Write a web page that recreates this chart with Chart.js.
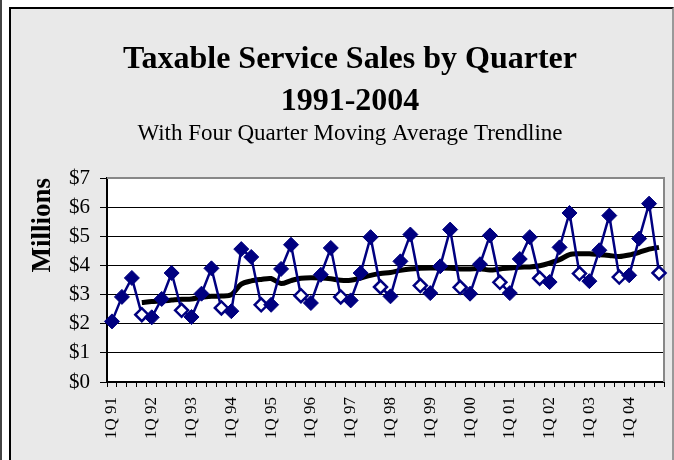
<!DOCTYPE html>
<html>
<head>
<meta charset="utf-8">
<script src="https://cdn.jsdelivr.net/npm/chart.js@4.4.0/dist/chart.umd.min.js"></script>
<style>
  html, body { margin: 0; padding: 0; background: #fff; }
  #wrap { position: relative; width: 674px; height: 460px; overflow: hidden; }
  #edge { position: absolute; left: 0; top: 0; width: 2px; height: 460px; background: #444; }
  #frame { position: absolute; left: 9px; top: 7px; width: 661px; height: 470px;
           background: #e9e9e9; border-left: 2px solid #000; border-top: 2px solid #000; border-right: 2px solid #999; }
  #chart { position: absolute; left: 0; top: 0; }
</style>
</head>
<body>
<div id="wrap">
  <div id="edge"></div>
  <div id="frame"></div>
  <canvas id="chart" width="674" height="460"></canvas>
</div>
<script>
  // quarterly taxable service sales, $ millions
  var years = ['91', '92', '93', '94', '95', '96', '97', '98', '99', '00', '01', '02', '03', '04'];
  var quarterNames = ['1Q', '2Q', '3Q', '4Q'];

  var sales = [
    2.08, 2.92, 3.57, 2.31,
    2.22, 2.85, 3.74, 2.46,
    2.23, 3.03, 3.90, 2.54,
    2.43, 4.56, 4.29, 2.65,
    2.65, 3.88, 4.71, 2.96,
    2.71, 3.68, 4.60, 2.92,
    2.80, 3.74, 4.97, 3.26,
    2.94, 4.14, 5.06, 3.31,
    3.05, 3.97, 5.23, 3.25,
    3.03, 4.04, 5.03, 3.42,
    3.05, 4.22, 4.97, 3.56,
    3.43, 4.62, 5.80, 3.72,
    3.46, 4.52, 5.71, 3.60,
    3.66, 4.92, 6.12, 3.74
  ];

  // four quarter moving average trendline
  var movingAvg = [
    null, null, null, 2.73,
    2.76, 2.78, 2.81, 2.84,
    2.85, 2.91, 2.94, 2.95,
    3.00, 3.36, 3.47, 3.52,
    3.55, 3.38, 3.48, 3.56,
    3.58, 3.57, 3.54, 3.49,
    3.49, 3.57, 3.66, 3.72,
    3.76, 3.83, 3.88, 3.90,
    3.91, 3.91, 3.90, 3.88,
    3.88, 3.89, 3.84, 3.88,
    3.91, 3.94, 3.95, 3.99,
    4.08, 4.20, 4.37, 4.40,
    4.40, 4.37, 4.34, 4.31,
    4.36, 4.45, 4.56, 4.62
  ];

  var yTicks = [0, 1, 2, 3, 4, 5, 6, 7];

  var quarters = [];
  years.forEach(function (yr) {
    quarterNames.forEach(function (q) {
      quarters.push(q + ' ' + yr);
    });
  });

  var navy = '#000080';
  var serif = '"Liberation Serif", "Times New Roman", serif';

  var plotFrame = {
    id: 'plotFrame',
    beforeDraw: function (chart) {
      var a = chart.chartArea, ctx = chart.ctx;
      ctx.save();
      ctx.fillStyle = '#fff';
      ctx.fillRect(a.left, a.top, a.right - a.left, a.bottom - a.top);
      ctx.restore();
    },
    beforeDatasetsDraw: function (chart) {
      var a = chart.chartArea, ctx = chart.ctx;
      ctx.save();
      ctx.strokeStyle = '#888';
      ctx.lineWidth = 2;
      ctx.beginPath();
      ctx.moveTo(a.left, a.top);
      ctx.lineTo(a.right, a.top);
      ctx.lineTo(a.right, a.bottom);
      ctx.stroke();
      ctx.restore();
    },
    afterDraw: function (chart) {
      var ctx = chart.ctx;
      ctx.save();
      ctx.fillStyle = '#000';
      ctx.textAlign = 'center';
      ctx.textBaseline = 'alphabetic';
      ctx.font = 'bold 32px ' + serif;
      ctx.fillText('Taxable Service Sales by Quarter', 350, 68);
      ctx.fillText('1991-2004', 350, 110);
      ctx.font = '23px ' + serif;
      ctx.fillText('With Four Quarter Moving Average Trendline', 350, 140);
      ctx.restore();
    }
  };

  new Chart(document.getElementById('chart'), {
    type: 'line',
    data: {
      labels: quarters,
      datasets: [{
        label: 'Sales',
        data: sales,
        borderColor: navy,
        borderWidth: 2.5,
        tension: 0,
        pointStyle: 'rectRot',
        pointRadius: function (c) { return c.dataIndex % 4 === 3 ? 6.5 : 7.5; },
        pointBackgroundColor: function (c) { return c.dataIndex % 4 === 3 ? '#fff' : navy; },
        pointBorderColor: navy,
        pointBorderWidth: function (c) { return c.dataIndex % 4 === 3 ? 2.5 : 1; },
        clip: false,
        order: 0
      }, {
        label: 'Four Quarter Moving Average',
        data: movingAvg,
        borderColor: '#000',
        borderWidth: 5,
        tension: 0.3,
        pointRadius: 0,
        spanGaps: false,
        order: 1
      }]
    },
    options: {
      responsive: false,
      animation: false,
      layout: { padding: { top: 178, right: 10, left: 0, bottom: 0 } },
      plugins: {
        legend: { display: false },
        tooltip: { enabled: false }
      },
      scales: {
        x: {
          type: 'category',
          offset: true,
          afterFit: function (s) { s.height = 78; s.paddingLeft = 0; s.paddingRight = 0; },
          grid: { display: true, offset: true, drawOnChartArea: false, tickLength: 5, color: '#000', tickColor: '#000' },
          border: { display: true, color: '#000', width: 2 },
          ticks: {
            autoSkip: false,
            maxRotation: 90,
            minRotation: 90,
            padding: 10,
            color: '#000',
            font: { family: serif, size: 17 },
            callback: function (v, i) { return i % 4 === 0 ? quarters[i] : ''; }
          }
        },
        y: {
          min: yTicks[0],
          max: yTicks[yTicks.length - 1],
          afterFit: function (s) { s.width = 107; s.paddingTop = 0; s.paddingBottom = 0; },
          afterBuildTicks: function (s) { s.ticks = yTicks.map(function (v) { return { value: v }; }); },
          grid: {
            color: function (c) { return c.tick && c.tick.value === 7 ? '#888' : '#000'; },
            lineWidth: 1,
            tickLength: 7,
            tickColor: '#000'
          },
          border: { display: true, color: '#000', width: 2 },
          ticks: {
            padding: 10,
            color: '#000',
            font: { family: serif, size: 21 },
            callback: function (v) { return '$' + v; }
          },
          title: {
            display: true,
            text: 'Millions',
            align: 'end',
            color: '#000',
            font: { family: serif, size: 27, weight: 'bold' },
            padding: { top: 27, bottom: 0 }
          }
        }
      }
    },
    plugins: [plotFrame]
  });
</script>
</body>
</html>
